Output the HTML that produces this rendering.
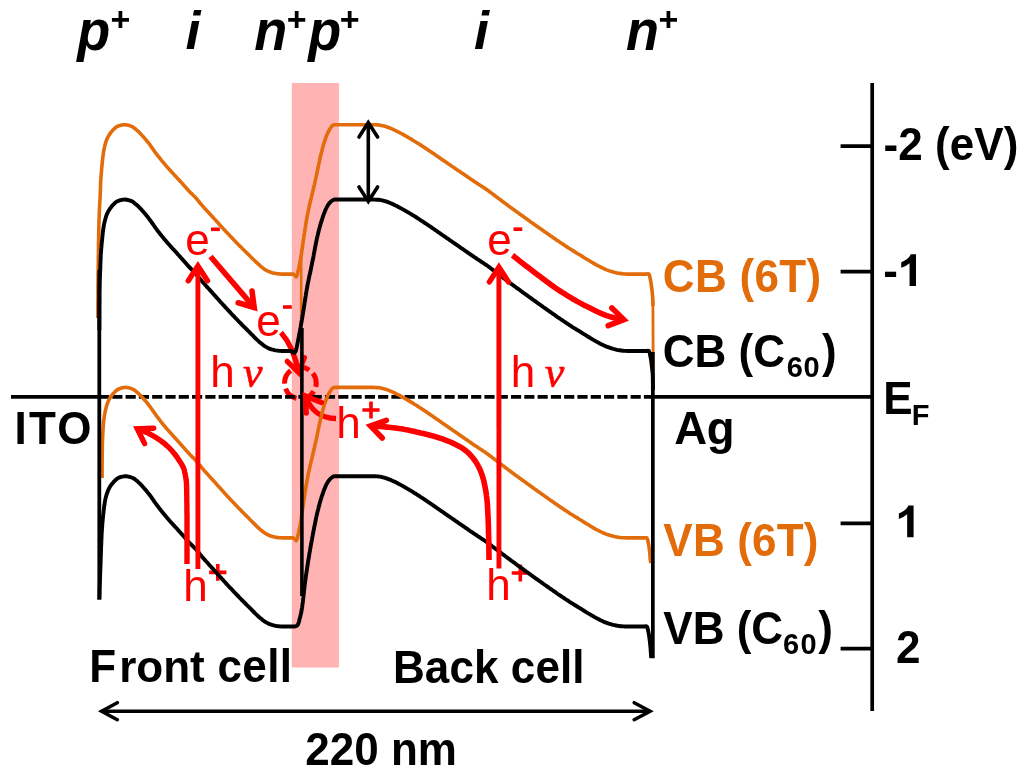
<!DOCTYPE html>
<html><head><meta charset="utf-8"><title>Band diagram</title>
<style>
html,body{margin:0;padding:0;background:#fff;}
body{width:1024px;height:770px;overflow:hidden;font-family:"Liberation Sans",sans-serif;}
svg{display:block;will-change:transform;}
</style></head><body>
<svg width="1024" height="770" viewBox="0 0 1024 770">
<rect x="0" y="0" width="1024" height="770" fill="#fff"/>
<rect x="291.8" y="83" width="47.1" height="584.5" fill="#FFB3B3"/>
<text x="185.2" y="255.4" font-family="&quot;Liberation Sans&quot;, sans-serif" font-size="44" fill="#FF0000" >e</text>
<text x="256.2" y="335.8" font-family="&quot;Liberation Sans&quot;, sans-serif" font-size="44" fill="#FF0000" >e</text>
<text x="487.2" y="255.4" font-family="&quot;Liberation Sans&quot;, sans-serif" font-size="44" fill="#FF0000" >e</text>
<text x="183.3" y="600.8" font-family="&quot;Liberation Sans&quot;, sans-serif" font-size="44" fill="#FF0000" >h</text>
<text x="486.2" y="600.2" font-family="&quot;Liberation Sans&quot;, sans-serif" font-size="44" fill="#FF0000" >h</text>
<text x="336.3" y="438.0" font-family="&quot;Liberation Sans&quot;, sans-serif" font-size="44" fill="#FF0000" >h</text>
<text x="210.2" y="386.6" font-family="&quot;Liberation Sans&quot;, sans-serif" font-size="44" fill="#FF0000" >h</text>
<text x="510.8" y="386.6" font-family="&quot;Liberation Sans&quot;, sans-serif" font-size="44" fill="#FF0000" >h</text>
<text x="243" y="386.6" font-family="&quot;Liberation Serif&quot;, sans-serif" font-size="44" fill="#FF0000" font-style="italic" stroke="#FF0000" stroke-width="0.6">ν</text>
<text x="544.8" y="386.6" font-family="&quot;Liberation Serif&quot;, sans-serif" font-size="44" fill="#FF0000" font-style="italic" stroke="#FF0000" stroke-width="0.6">ν</text>
<rect x="211" y="227.5" width="8.8" height="3.6" fill="#FF0000"/>
<rect x="283" y="305.2" width="8.8" height="3.6" fill="#FF0000"/>
<rect x="513.5" y="227.4" width="8.8" height="3.6" fill="#FF0000"/>
<path d="M209.20000000000002,572.4 H226.4 M217.8,564.0 V580.8" stroke="#FF0000" stroke-width="3.6" fill="none"/>
<path d="M511.69999999999993,573.0 H528.9 M520.3,564.6 V581.4" stroke="#FF0000" stroke-width="3.6" fill="none"/>
<path d="M362.4,410.0 H379.6 M371.0,401.6 V418.4" stroke="#FF0000" stroke-width="3.6" fill="none"/>
<path d="M281,332.5 C288.5,341 295.5,356 298.6,372.7" fill="none" stroke="#FF0000" stroke-width="5.2" stroke-linecap="butt" stroke-linejoin="round"/>
<path d="M304.4,357.6 L298.6,372.7 L287.2,361.3" fill="none" stroke="#FF0000" stroke-width="5.2" stroke-linecap="round" stroke-linejoin="miter" stroke-miterlimit="10"/>
<circle cx="300.4" cy="383" r="15.8" fill="none" stroke="#FF0000" stroke-width="5" stroke-dasharray="15 4.86" stroke-dashoffset="11.03"/>
<path d="M336,418.5 C320,418.5 310,409 305.6,396.0" fill="none" stroke="#FF0000" stroke-width="5.4" stroke-linecap="butt" stroke-linejoin="round"/>
<path d="M11,396.9 H99.2" stroke="#000" stroke-width="3.6" fill="none"/>
<path d="M99.0,396.9 H654" stroke="#000" stroke-width="3.6" stroke-dasharray="10.15 3.14" fill="none"/>
<path d="M651,396.9 H872" stroke="#000" stroke-width="3.6" fill="none"/>
<path d="M97.9,318.0 L97.9,316.5 L97.9,315.0 L97.9,313.5 L97.9,312.0 L97.9,310.5 L97.9,309.0 L97.9,307.5 L97.9,306.0 L97.9,304.5 L97.9,303.0 L97.9,301.5 L98.0,300.0 L98.0,298.5 L98.0,297.0 L98.0,295.5 L98.0,294.0 L98.0,292.5 L98.0,291.0 L98.0,289.5 L98.0,288.0 L98.0,286.5 L98.0,285.0 L98.0,283.5 L98.1,282.0 L98.1,280.5 L98.1,279.0 L98.1,277.5 L98.1,276.0 L98.1,274.5 L98.1,273.0 L98.2,271.5 L98.2,270.0 L98.2,268.5 L98.2,267.0 L98.2,265.5 L98.3,264.0 L98.3,262.5 L98.3,261.0 L98.3,259.5 L98.3,258.0 L98.3,256.5 L98.4,255.0 L98.4,253.5 L98.4,252.0 L98.4,250.5 L98.5,249.0 L98.5,247.5 L98.5,246.0 L98.5,244.5 L98.5,243.0 L98.6,241.5 L98.6,240.0 L98.6,238.5 L98.7,237.0 L98.7,235.5 L98.7,234.0 L98.7,232.5 L98.8,231.0 L98.8,229.5 L98.8,228.0 L98.9,226.5 L98.9,225.0 L99.0,223.5 L99.0,222.0 L99.0,220.5 L99.1,219.0 L99.1,217.5 L99.2,216.0 L99.2,214.5 L99.3,213.0 L99.3,211.5 L99.4,210.0 L99.5,208.5 L99.6,207.0 L99.6,205.5 L99.7,204.0 L99.8,202.5 L99.9,201.0 L100.0,199.5 L100.1,198.0 L100.1,196.5 L100.2,195.0 L100.3,193.5 L100.3,192.0 L100.4,190.5 L100.4,189.0 L100.5,187.5 L100.5,186.0 L100.6,184.5 L100.6,183.0 L100.7,181.5 L100.8,180.0 L100.9,178.6 L101.0,177.1 L101.1,175.6 L101.2,174.1 L101.3,172.6 L101.5,171.1 L101.6,169.6 L101.7,168.1 L101.9,166.6 L102.0,165.1 L102.2,163.6 L102.3,162.1 L102.5,160.6 L102.6,159.1 L102.8,157.6 L103.0,156.1 L103.2,154.6 L103.4,153.2 L103.6,151.7 L103.9,150.2 L104.2,148.7 L104.5,147.3 L104.8,145.8 L105.2,144.3 L105.6,142.9 L106.1,141.4 L106.6,140.0 L107.1,138.7 L107.8,137.3 L108.5,136.0 L109.3,134.7 L110.2,133.4 L111.1,132.2 L112.0,131.1 L113.0,130.0 L114.1,128.9 L115.3,127.8 L116.5,126.9 L117.8,126.2 L119.1,125.7 L120.6,125.3 L122.1,125.0 L123.6,124.7 L125.1,124.7 L126.6,124.9 L128.1,125.2 L129.5,125.6 L130.9,126.1 L132.3,126.7 L133.5,127.5 L134.8,128.4 L135.9,129.4 L137.1,130.4 L138.2,131.3 L139.3,132.4 L140.3,133.5 L141.3,134.6 L142.3,135.7 L143.4,136.8 L144.3,137.9 L145.3,139.1 L146.3,140.2 L147.2,141.4 L148.2,142.6 L149.1,143.7 L150.0,144.9 L150.9,146.2 L151.7,147.4 L152.6,148.6 L153.5,149.8 L154.3,151.1 L155.2,152.3 L156.1,153.5 L157.0,154.7 L157.9,155.9 L158.9,157.0 L159.8,158.2 L160.7,159.4 L161.7,160.6 L162.6,161.7 L163.6,162.9 L164.6,164.0 L165.5,165.2 L166.5,166.3 L167.5,167.4 L168.5,168.5 L169.5,169.6 L170.5,170.8 L171.5,171.9 L172.5,173.0 L173.6,174.1 L174.6,175.2 L175.6,176.3 L176.6,177.4 L177.6,178.5 L178.6,179.6 L179.7,180.7 L180.7,181.8 L181.7,182.9 L182.7,184.0 L183.7,185.2 L184.7,186.3 L185.7,187.4 L186.7,188.5 L187.7,189.6 L188.7,190.7 L189.7,191.8 L190.8,192.9 L191.9,193.9 L192.9,195.0 L194.0,196.0 L195.1,197.1 L196.1,198.2 L197.1,199.3 L198.0,200.5 L199.0,201.6 L199.9,202.8 L200.9,204.0 L201.8,205.1 L202.8,206.2 L203.8,207.4 L204.8,208.5 L205.8,209.6 L206.8,210.7 L207.9,211.8 L208.9,212.9 L209.9,214.0 L210.9,215.1 L211.9,216.2 L212.9,217.3 L213.9,218.4 L214.9,219.5 L216.0,220.6 L217.0,221.8 L218.0,222.9 L219.0,224.0 L220.0,225.1 L221.0,226.2 L222.0,227.3 L223.0,228.4 L224.1,229.5 L225.1,230.6 L226.1,231.7 L227.1,232.8 L228.2,233.9 L229.2,235.0 L230.2,236.1 L231.2,237.2 L232.3,238.2 L233.3,239.3 L234.4,240.4 L235.4,241.5 L236.4,242.6 L237.5,243.6 L238.5,244.7 L239.6,245.8 L240.7,246.8 L241.7,247.9 L242.8,249.0 L243.8,250.0 L244.9,251.1 L246.0,252.1 L247.0,253.2 L248.1,254.2 L249.2,255.3 L250.2,256.3 L251.3,257.4 L252.4,258.5 L253.4,259.5 L254.5,260.6 L255.6,261.7 L256.7,262.7 L257.8,263.7 L258.9,264.7 L260.0,265.7 L261.2,266.6 L262.3,267.6 L263.5,268.5 L264.8,269.4 L266.0,270.1 L267.4,270.8 L268.7,271.4 L270.1,272.0 L271.6,272.5 L273.0,272.9 L274.5,273.2 L275.9,273.5 L277.4,273.8 L278.9,273.9 L280.4,274.0 L281.9,274.1 L283.4,274.1 L285.0,274.1 L286.6,274.1 L288.2,274.1 L289.7,274.1 L291.2,274.1 L292.6,274.1 L293.8,274.3 L294.9,275.7 L295.9,276.9 L296.5,276.5 L297.1,275.3 L297.5,273.6 L297.9,271.7 L298.3,270.1 L298.7,268.6 L299.0,267.1 L299.3,265.7 L299.6,264.2 L299.9,262.7 L300.1,261.2 L300.4,259.8 L300.7,258.3 L300.9,256.8 L301.1,255.3 L301.4,253.8 L301.6,252.4 L301.8,250.9 L302.0,249.4 L302.3,247.9 L302.5,246.4 L302.7,244.9 L302.9,243.5 L303.1,242.0 L303.3,240.5 L303.6,239.0 L303.8,237.5 L304.0,236.0 L304.2,234.5 L304.5,233.1 L304.7,231.6 L304.9,230.1 L305.1,228.6 L305.4,227.1 L305.6,225.6 L305.8,224.2 L306.1,222.7 L306.3,221.2 L306.6,219.7 L306.8,218.3 L307.1,216.8 L307.4,215.3 L307.7,213.8 L308.0,212.4 L308.3,210.9 L308.6,209.4 L308.9,208.0 L309.2,206.5 L309.5,205.0 L309.9,203.6 L310.2,202.1 L310.5,200.6 L310.9,199.2 L311.3,197.7 L311.6,196.3 L312.0,194.8 L312.3,193.4 L312.7,191.9 L313.0,190.4 L313.3,189.0 L313.7,187.5 L314.0,186.1 L314.4,184.6 L314.7,183.1 L315.0,181.7 L315.4,180.2 L315.7,178.7 L316.0,177.3 L316.3,175.8 L316.7,174.3 L317.0,172.9 L317.3,171.4 L317.6,169.9 L317.9,168.5 L318.2,167.0 L318.5,165.5 L318.8,164.1 L319.1,162.6 L319.5,161.1 L319.8,159.7 L320.1,158.2 L320.4,156.7 L320.8,155.3 L321.1,153.8 L321.5,152.4 L321.9,150.9 L322.2,149.5 L322.6,148.0 L323.0,146.5 L323.4,145.1 L323.8,143.7 L324.3,142.2 L324.8,140.8 L325.2,139.4 L325.7,138.0 L326.3,136.5 L326.8,135.1 L327.4,133.7 L328.0,132.4 L328.7,131.0 L329.5,129.8 L330.3,128.4 L331.2,127.0 L332.2,125.8 L333.4,125.0 L334.7,124.8 L336.3,124.7 L337.8,124.7 L339.2,124.7 L340.7,124.7 L342.2,124.7 L343.7,124.7 L345.2,124.7 L346.7,124.7 L348.2,124.7 L349.7,124.7 L351.2,124.7 L352.7,124.7 L354.2,124.7 L355.7,124.7 L357.2,124.7 L358.7,124.7 L360.3,124.7 L361.8,124.7 L363.3,124.7 L364.8,124.7 L366.3,124.7 L367.8,124.7 L369.3,124.7 L370.8,124.7 L372.3,124.7 L373.8,124.8 L375.3,124.8 L376.8,124.9 L378.3,125.0 L379.7,125.1 L381.2,125.4 L382.7,125.7 L384.1,126.1 L385.6,126.5 L387.0,127.0 L388.4,127.5 L389.8,128.0 L391.2,128.6 L392.6,129.2 L393.9,129.8 L395.3,130.5 L396.6,131.1 L398.0,131.8 L399.3,132.5 L400.6,133.2 L402.0,133.9 L403.3,134.6 L404.6,135.4 L405.9,136.1 L407.2,136.8 L408.5,137.6 L409.8,138.3 L411.1,139.1 L412.4,139.9 L413.6,140.7 L414.9,141.5 L416.2,142.3 L417.5,143.0 L418.7,143.8 L420.0,144.6 L421.3,145.5 L422.5,146.3 L423.8,147.1 L425.0,147.9 L426.3,148.7 L427.5,149.6 L428.8,150.4 L430.0,151.2 L431.3,152.1 L432.5,152.9 L433.8,153.8 L435.0,154.6 L436.2,155.5 L437.5,156.3 L438.7,157.2 L439.9,158.0 L441.2,158.9 L442.4,159.7 L443.6,160.6 L444.9,161.4 L446.1,162.3 L447.4,163.1 L448.6,164.0 L449.8,164.8 L451.1,165.6 L452.3,166.5 L453.6,167.3 L454.8,168.2 L456.0,169.0 L457.3,169.9 L458.5,170.7 L459.8,171.6 L461.0,172.4 L462.2,173.2 L463.5,174.1 L464.7,174.9 L466.0,175.8 L467.2,176.6 L468.4,177.5 L469.7,178.3 L470.9,179.2 L472.2,180.0 L473.4,180.8 L474.6,181.7 L475.9,182.5 L477.1,183.3 L478.4,184.2 L479.7,185.0 L480.9,185.8 L482.2,186.6 L483.4,187.4 L484.7,188.2 L485.9,189.1 L487.2,189.9 L488.4,190.8 L489.6,191.7 L490.8,192.6 L492.0,193.5 L493.2,194.4 L494.4,195.3 L495.6,196.2 L496.8,197.1 L498.0,198.0 L499.2,198.9 L500.4,199.8 L501.6,200.7 L502.8,201.6 L504.0,202.5 L505.2,203.4 L506.4,204.3 L507.6,205.2 L508.8,206.1 L510.0,207.0 L511.2,207.8 L512.4,208.7 L513.7,209.6 L514.9,210.5 L516.1,211.4 L517.3,212.3 L518.5,213.1 L519.7,214.0 L520.9,214.9 L522.2,215.8 L523.4,216.6 L524.6,217.5 L525.8,218.4 L527.1,219.2 L528.3,220.1 L529.5,221.0 L530.7,221.9 L531.9,222.7 L533.2,223.6 L534.4,224.5 L535.6,225.3 L536.8,226.2 L538.1,227.1 L539.3,227.9 L540.5,228.8 L541.7,229.6 L543.0,230.5 L544.2,231.4 L545.4,232.2 L546.7,233.1 L547.9,233.9 L549.1,234.8 L550.3,235.7 L551.6,236.5 L552.8,237.4 L554.1,238.2 L555.3,239.1 L556.5,239.9 L557.8,240.8 L559.0,241.6 L560.2,242.4 L561.5,243.3 L562.7,244.1 L564.0,244.9 L565.2,245.8 L566.5,246.6 L567.8,247.4 L569.0,248.2 L570.3,249.0 L571.5,249.8 L572.8,250.6 L574.1,251.4 L575.4,252.2 L576.6,253.0 L577.9,253.8 L579.2,254.5 L580.5,255.3 L581.8,256.1 L583.1,256.9 L584.3,257.7 L585.6,258.5 L586.9,259.3 L588.2,260.0 L589.5,260.8 L590.7,261.6 L592.0,262.3 L593.3,263.1 L594.6,263.9 L595.9,264.6 L597.2,265.3 L598.6,266.0 L599.9,266.7 L601.2,267.4 L602.6,268.0 L604.0,268.7 L605.3,269.3 L606.7,269.9 L608.1,270.4 L609.5,270.9 L611.0,271.3 L612.4,271.8 L613.8,272.2 L615.3,272.6 L616.8,272.9 L618.2,273.2 L619.7,273.4 L621.2,273.6 L622.7,273.8 L624.2,274.0 L625.7,274.0 L627.2,274.1 L628.7,274.1 L630.2,274.1 L631.7,274.1 L633.2,274.1 L634.7,274.1 L636.2,274.1 L637.7,274.1 L639.2,274.1 L640.7,274.1 L642.2,274.1 L643.7,274.1 L645.2,274.1 L646.7,274.1 L648.2,273.8 L649.0,274.3 L649.6,275.7 L650.0,277.6 L650.3,279.2 L650.6,280.7 L650.9,282.2 L651.1,283.6 L651.3,285.1 L651.5,286.6 L651.7,288.1 L651.9,289.6 L652.1,291.1 L652.2,292.6 L652.4,294.1 L652.5,295.6 L652.7,297.1 L652.7,298.6 L652.8,300.1 L652.9,301.6 L652.9,303.1 L652.9,304.6 L652.9,306.0" fill="none" stroke="#E36C0A" stroke-width="3.6" stroke-linejoin="round"/>
<path d="M102.1,478.0 L102.1,476.5 L102.1,475.0 L102.1,473.5 L102.1,472.0 L102.1,470.5 L102.1,469.0 L102.1,467.5 L102.1,466.0 L102.1,464.5 L102.1,463.0 L102.2,461.5 L102.2,460.0 L102.2,458.5 L102.2,457.0 L102.2,455.5 L102.2,454.0 L102.2,452.5 L102.3,451.0 L102.3,449.5 L102.3,448.0 L102.3,446.5 L102.4,445.0 L102.4,443.5 L102.4,442.0 L102.5,440.5 L102.6,439.0 L102.6,437.5 L102.7,436.0 L102.8,434.5 L102.8,433.0 L102.9,431.5 L103.0,430.0 L103.1,428.5 L103.2,427.0 L103.3,425.5 L103.4,424.0 L103.5,422.5 L103.7,421.0 L103.9,419.5 L104.1,418.1 L104.3,416.6 L104.5,415.1 L104.8,413.6 L105.1,412.1 L105.4,410.7 L105.7,409.2 L106.1,407.7 L106.5,406.2 L106.9,404.8 L107.4,403.4 L107.9,402.0 L108.5,400.7 L109.2,399.3 L109.9,398.0 L110.8,396.7 L111.7,395.5 L112.6,394.3 L113.6,393.2 L114.6,392.1 L115.8,391.0 L117.0,390.0 L118.2,389.2 L119.5,388.7 L120.9,388.2 L122.4,387.8 L123.9,387.5 L125.4,387.4 L126.9,387.5 L128.4,387.7 L129.9,388.1 L131.3,388.6 L132.7,389.1 L133.9,389.8 L135.2,390.7 L136.4,391.7 L137.5,392.7 L138.7,393.7 L139.7,394.7 L140.8,395.8 L141.8,396.9 L142.8,398.0 L143.8,399.1 L144.8,400.3 L145.8,401.4 L146.8,402.5 L147.7,403.7 L148.6,404.9 L149.6,406.1 L150.5,407.3 L151.3,408.5 L152.2,409.7 L153.0,410.9 L153.9,412.2 L154.8,413.4 L155.6,414.6 L156.5,415.8 L157.4,417.0 L158.3,418.2 L159.2,419.4 L160.1,420.6 L161.1,421.8 L162.0,423.0 L162.9,424.1 L163.9,425.3 L164.9,426.5 L165.8,427.6 L166.8,428.7 L167.8,429.9 L168.8,431.0 L169.8,432.1 L170.8,433.2 L171.8,434.4 L172.8,435.5 L173.8,436.6 L174.8,437.7 L175.8,438.8 L176.8,439.9 L177.8,441.0 L178.8,442.1 L179.8,443.2 L180.8,444.4 L181.8,445.5 L182.8,446.6 L183.8,447.7 L184.8,448.9 L185.8,450.0 L186.8,451.1 L187.8,452.2 L188.8,453.3 L189.8,454.4 L190.9,455.5 L191.9,456.6 L193.0,457.6 L194.1,458.7 L195.1,459.8 L196.1,460.8 L197.1,462.0 L198.1,463.1 L199.0,464.3 L200.0,465.5 L200.9,466.6 L201.9,467.8 L202.8,468.9 L203.8,470.1 L204.8,471.2 L205.8,472.3 L206.8,473.4 L207.8,474.5 L208.8,475.6 L209.8,476.8 L210.8,477.9 L211.8,479.0 L212.9,480.1 L213.9,481.2 L214.9,482.3 L215.9,483.4 L216.9,484.6 L217.9,485.7 L218.9,486.8 L219.9,487.9 L220.9,489.0 L221.9,490.1 L222.9,491.2 L223.9,492.4 L224.9,493.5 L225.9,494.6 L226.9,495.7 L228.0,496.8 L229.0,497.9 L230.0,499.0 L231.0,500.1 L232.1,501.2 L233.1,502.2 L234.1,503.3 L235.2,504.4 L236.2,505.5 L237.2,506.6 L238.3,507.7 L239.3,508.7 L240.4,509.8 L241.4,510.9 L242.5,512.0 L243.5,513.0 L244.6,514.1 L245.6,515.2 L246.7,516.2 L247.8,517.3 L248.8,518.3 L249.9,519.4 L250.9,520.5 L252.0,521.5 L253.0,522.6 L254.1,523.7 L255.2,524.7 L256.2,525.8 L257.3,526.8 L258.4,527.8 L259.5,528.8 L260.7,529.8 L261.8,530.8 L263.0,531.7 L264.2,532.6 L265.5,533.5 L266.8,534.2 L268.1,534.9 L269.5,535.5 L270.9,536.0 L272.3,536.4 L273.8,536.8 L275.2,537.2 L276.7,537.4 L278.2,537.6 L279.7,537.7 L281.2,537.8 L282.7,537.9 L284.2,537.9 L285.8,537.9 L287.4,537.9 L289.0,537.9 L290.5,537.9 L291.9,537.9 L293.2,537.9 L294.4,538.7 L295.5,540.3 L296.2,540.7 L296.8,539.8 L297.3,538.3 L297.7,536.5 L298.1,534.6 L298.5,533.1 L298.8,531.7 L299.1,530.2 L299.4,528.7 L299.7,527.3 L300.0,525.8 L300.3,524.3 L300.5,522.8 L300.8,521.3 L301.0,519.9 L301.2,518.4 L301.5,516.9 L301.7,515.4 L301.9,513.9 L302.1,512.5 L302.3,511.0 L302.6,509.5 L302.8,508.0 L303.0,506.5 L303.2,505.0 L303.4,503.5 L303.6,502.1 L303.9,500.6 L304.1,499.1 L304.3,497.6 L304.5,496.1 L304.7,494.6 L305.0,493.2 L305.2,491.7 L305.4,490.2 L305.6,488.7 L305.9,487.2 L306.1,485.7 L306.4,484.3 L306.6,482.8 L306.9,481.3 L307.2,479.8 L307.5,478.4 L307.7,476.9 L308.0,475.4 L308.3,474.0 L308.6,472.5 L308.9,471.0 L309.3,469.5 L309.6,468.1 L309.9,466.6 L310.2,465.2 L310.6,463.7 L310.9,462.2 L311.3,460.8 L311.7,459.3 L312.0,457.9 L312.4,456.4 L312.7,454.9 L313.0,453.5 L313.4,452.0 L313.7,450.6 L314.0,449.1 L314.4,447.6 L314.7,446.2 L315.0,444.7 L315.4,443.2 L315.7,441.8 L316.0,440.3 L316.4,438.9 L316.7,437.4 L317.0,435.9 L317.3,434.5 L317.6,433.0 L317.9,431.5 L318.2,430.0 L318.5,428.6 L318.8,427.1 L319.1,425.6 L319.4,424.2 L319.8,422.7 L320.1,421.2 L320.4,419.8 L320.8,418.3 L321.1,416.9 L321.5,415.4 L321.8,413.9 L322.2,412.5 L322.6,411.0 L323.0,409.6 L323.4,408.1 L323.8,406.7 L324.2,405.3 L324.7,403.8 L325.2,402.4 L325.7,401.0 L326.2,399.6 L326.7,398.1 L327.3,396.7 L327.9,395.4 L328.6,394.0 L329.3,392.8 L330.1,391.5 L331.0,390.0 L332.0,388.7 L333.1,387.8 L334.4,387.5 L335.9,387.4 L337.4,387.4 L338.9,387.4 L340.4,387.4 L341.9,387.4 L343.4,387.4 L344.9,387.4 L346.4,387.4 L347.9,387.4 L349.4,387.4 L350.9,387.4 L352.4,387.4 L353.9,387.4 L355.4,387.4 L356.9,387.4 L358.4,387.4 L359.9,387.4 L361.4,387.4 L362.9,387.4 L364.4,387.4 L365.9,387.4 L367.4,387.4 L368.9,387.4 L370.4,387.4 L371.9,387.4 L373.4,387.4 L374.9,387.5 L376.4,387.6 L377.9,387.6 L379.4,387.8 L380.9,388.0 L382.4,388.4 L383.8,388.8 L385.3,389.2 L386.7,389.6 L388.1,390.1 L389.5,390.7 L390.9,391.3 L392.3,391.9 L393.6,392.5 L395.0,393.1 L396.3,393.8 L397.6,394.5 L399.0,395.2 L400.3,395.9 L401.6,396.6 L402.9,397.3 L404.2,398.1 L405.6,398.8 L406.8,399.6 L408.1,400.3 L409.4,401.1 L410.7,401.9 L412.0,402.7 L413.3,403.4 L414.5,404.2 L415.8,405.0 L417.1,405.8 L418.3,406.7 L419.6,407.5 L420.9,408.3 L422.1,409.1 L423.4,409.9 L424.6,410.8 L425.9,411.6 L427.1,412.4 L428.3,413.3 L429.6,414.1 L430.8,415.0 L432.1,415.8 L433.3,416.7 L434.5,417.5 L435.7,418.4 L437.0,419.3 L438.2,420.1 L439.4,421.0 L440.7,421.8 L441.9,422.7 L443.1,423.5 L444.4,424.4 L445.6,425.3 L446.8,426.1 L448.1,427.0 L449.3,427.8 L450.5,428.7 L451.8,429.5 L453.0,430.4 L454.2,431.2 L455.5,432.1 L456.7,432.9 L457.9,433.8 L459.2,434.6 L460.4,435.5 L461.6,436.3 L462.9,437.2 L464.1,438.0 L465.3,438.9 L466.6,439.8 L467.8,440.6 L469.0,441.5 L470.3,442.3 L471.5,443.2 L472.7,444.0 L474.0,444.9 L475.2,445.7 L476.5,446.5 L477.7,447.4 L479.0,448.2 L480.2,449.0 L481.5,449.8 L482.7,450.7 L484.0,451.5 L485.2,452.3 L486.4,453.2 L487.7,454.1 L488.9,455.0 L490.1,455.9 L491.3,456.8 L492.5,457.7 L493.7,458.6 L494.8,459.5 L496.0,460.4 L497.2,461.3 L498.4,462.3 L499.6,463.2 L500.8,464.1 L502.0,465.0 L503.2,465.9 L504.4,466.8 L505.6,467.7 L506.8,468.6 L508.0,469.5 L509.2,470.4 L510.4,471.3 L511.6,472.2 L512.8,473.1 L514.0,474.0 L515.2,474.9 L516.4,475.7 L517.6,476.6 L518.8,477.5 L520.1,478.4 L521.3,479.3 L522.5,480.2 L523.7,481.0 L524.9,481.9 L526.1,482.8 L527.3,483.7 L528.6,484.6 L529.8,485.4 L531.0,486.3 L532.2,487.2 L533.4,488.1 L534.6,488.9 L535.9,489.8 L537.1,490.7 L538.3,491.6 L539.5,492.4 L540.7,493.3 L542.0,494.2 L543.2,495.0 L544.4,495.9 L545.6,496.8 L546.9,497.6 L548.1,498.5 L549.3,499.4 L550.5,500.2 L551.8,501.1 L553.0,502.0 L554.2,502.8 L555.5,503.7 L556.7,504.5 L557.9,505.4 L559.2,506.2 L560.4,507.1 L561.7,507.9 L562.9,508.7 L564.1,509.6 L565.4,510.4 L566.7,511.2 L567.9,512.0 L569.2,512.9 L570.4,513.7 L571.7,514.5 L573.0,515.3 L574.2,516.1 L575.5,516.9 L576.8,517.6 L578.1,518.4 L579.3,519.2 L580.6,520.0 L581.9,520.8 L583.2,521.6 L584.4,522.4 L585.7,523.2 L587.0,524.0 L588.3,524.7 L589.6,525.5 L590.8,526.3 L592.1,527.1 L593.4,527.8 L594.7,528.6 L596.0,529.3 L597.4,530.0 L598.7,530.7 L600.0,531.3 L601.4,532.0 L602.8,532.7 L604.1,533.3 L605.5,533.8 L606.9,534.4 L608.3,534.8 L609.8,535.3 L611.2,535.7 L612.7,536.1 L614.1,536.5 L615.6,536.8 L617.1,537.1 L618.5,537.3 L620.0,537.5 L621.5,537.7 L623.0,537.8 L624.5,537.8 L626.0,537.9 L627.5,537.9 L629.0,537.9 L630.5,537.9 L632.0,537.9 L633.5,537.9 L635.0,537.9 L636.5,537.9 L638.0,537.9 L639.5,537.9 L641.0,537.9 L642.5,537.9 L644.0,537.9 L645.6,537.8 L646.7,537.7 L647.3,538.8 L647.8,540.5 L648.2,542.3 L648.5,543.8 L648.8,545.3 L649.0,546.8 L649.2,548.3 L649.4,549.8 L649.6,551.2 L649.8,552.7 L649.9,554.3 L650.0,555.8 L650.1,557.4 L650.2,558.9 L650.4,560.4 L650.6,561.8 L651.0,563.0" fill="none" stroke="#E36C0A" stroke-width="3.6" stroke-linejoin="round"/>
<path d="M301.2,254 V330" fill="none" stroke="#E36C0A" stroke-width="2.6"/>
<path d="M652.9,300 L653.2,371" fill="none" stroke="#E36C0A" stroke-width="2.8"/>
<path d="M99.4,330.0 L99.4,328.5 L99.4,327.0 L99.4,325.5 L99.4,324.0 L99.4,322.5 L99.4,321.0 L99.4,319.5 L99.4,318.0 L99.4,316.5 L99.4,315.0 L99.4,313.5 L99.4,312.0 L99.4,310.5 L99.4,309.0 L99.4,307.5 L99.4,306.0 L99.5,304.5 L99.5,303.0 L99.5,301.5 L99.5,300.0 L99.5,298.5 L99.5,297.0 L99.5,295.5 L99.5,294.0 L99.5,292.5 L99.5,291.0 L99.6,289.5 L99.6,288.0 L99.6,286.5 L99.7,285.0 L99.7,283.5 L99.7,282.0 L99.8,280.5 L99.8,279.0 L99.9,277.5 L100.0,276.0 L100.0,274.5 L100.1,273.0 L100.2,271.5 L100.2,270.0 L100.3,268.5 L100.3,267.0 L100.4,265.5 L100.4,264.0 L100.5,262.5 L100.5,261.0 L100.6,259.5 L100.7,258.0 L100.7,256.5 L100.8,255.0 L100.9,253.5 L101.0,252.0 L101.1,250.5 L101.2,249.0 L101.4,247.5 L101.5,246.0 L101.6,244.6 L101.8,243.1 L101.9,241.6 L102.1,240.1 L102.2,238.6 L102.4,237.1 L102.5,235.6 L102.7,234.1 L102.8,232.6 L103.0,231.1 L103.2,229.6 L103.4,228.1 L103.7,226.7 L103.9,225.2 L104.2,223.7 L104.5,222.2 L104.9,220.8 L105.3,219.3 L105.7,217.8 L106.1,216.4 L106.6,215.0 L107.1,213.6 L107.8,212.3 L108.5,211.0 L109.3,209.7 L110.1,208.4 L111.1,207.2 L112.0,206.0 L113.0,204.9 L114.1,203.8 L115.2,202.7 L116.4,201.8 L117.7,201.1 L119.0,200.6 L120.5,200.2 L122.0,199.8 L123.5,199.6 L125.0,199.5 L126.5,199.7 L128.0,200.0 L129.4,200.4 L130.8,200.9 L132.2,201.4 L133.4,202.2 L134.6,203.2 L135.8,204.2 L137.0,205.1 L138.1,206.1 L139.1,207.2 L140.2,208.3 L141.2,209.4 L142.2,210.5 L143.2,211.6 L144.2,212.8 L145.2,213.9 L146.1,215.0 L147.1,216.2 L148.0,217.4 L148.9,218.6 L149.8,219.8 L150.7,221.0 L151.5,222.2 L152.4,223.5 L153.3,224.7 L154.1,225.9 L155.0,227.1 L155.9,228.4 L156.8,229.6 L157.7,230.8 L158.6,232.0 L159.5,233.1 L160.4,234.3 L161.4,235.5 L162.3,236.7 L163.3,237.8 L164.2,239.0 L165.2,240.1 L166.2,241.3 L167.1,242.4 L168.1,243.5 L169.1,244.6 L170.1,245.8 L171.1,246.9 L172.1,248.0 L173.1,249.1 L174.2,250.2 L175.2,251.3 L176.2,252.4 L177.2,253.5 L178.2,254.7 L179.2,255.8 L180.2,256.9 L181.2,258.0 L182.2,259.1 L183.2,260.3 L184.2,261.4 L185.2,262.5 L186.2,263.6 L187.2,264.7 L188.2,265.9 L189.2,267.0 L190.2,268.0 L191.3,269.1 L192.3,270.2 L193.4,271.2 L194.5,272.3 L195.5,273.4 L196.5,274.5 L197.4,275.6 L198.4,276.8 L199.3,278.0 L200.3,279.2 L201.2,280.3 L202.2,281.5 L203.2,282.6 L204.2,283.7 L205.2,284.8 L206.2,286.0 L207.2,287.1 L208.2,288.2 L209.2,289.3 L210.2,290.4 L211.2,291.5 L212.2,292.6 L213.2,293.7 L214.2,294.9 L215.2,296.0 L216.2,297.1 L217.2,298.2 L218.2,299.3 L219.2,300.4 L220.2,301.6 L221.2,302.7 L222.2,303.8 L223.2,304.9 L224.3,306.0 L225.3,307.1 L226.3,308.2 L227.3,309.3 L228.3,310.4 L229.4,311.5 L230.4,312.6 L231.4,313.7 L232.4,314.8 L233.5,315.9 L234.5,317.0 L235.5,318.1 L236.6,319.1 L237.6,320.2 L238.6,321.3 L239.7,322.4 L240.7,323.4 L241.8,324.5 L242.8,325.6 L243.9,326.6 L245.0,327.7 L246.0,328.8 L247.1,329.8 L248.1,330.9 L249.2,331.9 L250.3,333.0 L251.3,334.1 L252.4,335.2 L253.4,336.2 L254.5,337.3 L255.6,338.4 L256.6,339.4 L257.7,340.4 L258.8,341.4 L260.0,342.4 L261.1,343.4 L262.3,344.3 L263.5,345.3 L264.7,346.1 L266.0,346.9 L267.3,347.6 L268.6,348.3 L270.0,348.8 L271.5,349.3 L272.9,349.7 L274.4,350.1 L275.8,350.4 L277.3,350.6 L278.8,350.8 L280.3,350.9 L281.8,351.0 L283.3,351.0 L284.8,351.0 L286.3,351.0 L287.8,351.0 L289.3,351.0 L290.8,351.0 L292.2,351.6 L293.4,352.7 L294.4,352.9 L295.5,351.6 L296.0,350.3 L296.4,348.8 L296.7,347.3 L297.0,345.8 L297.3,344.3 L297.6,342.9 L297.9,341.4 L298.2,339.9 L298.5,338.4 L298.8,337.0 L299.0,335.5 L299.3,334.0 L299.6,332.5 L299.9,331.1 L300.1,329.6 L300.4,328.1 L300.7,326.6 L300.9,325.2 L301.2,323.7 L301.5,322.2 L301.7,320.7 L302.0,319.3 L302.2,317.8 L302.5,316.3 L302.7,314.8 L303.0,313.3 L303.2,311.9 L303.5,310.4 L303.7,308.9 L303.9,307.4 L304.2,305.9 L304.4,304.4 L304.6,303.0 L304.8,301.5 L305.1,300.0 L305.3,298.5 L305.5,297.0 L305.8,295.6 L306.0,294.1 L306.2,292.6 L306.5,291.1 L306.7,289.6 L307.0,288.2 L307.3,286.7 L307.5,285.2 L307.8,283.7 L308.1,282.3 L308.4,280.8 L308.7,279.3 L309.0,277.9 L309.3,276.4 L309.6,274.9 L310.0,273.5 L310.3,272.0 L310.6,270.5 L310.9,269.1 L311.2,267.6 L311.5,266.1 L311.8,264.6 L312.1,263.2 L312.4,261.7 L312.7,260.2 L313.0,258.8 L313.3,257.3 L313.6,255.8 L313.8,254.3 L314.1,252.9 L314.4,251.4 L314.7,249.9 L314.9,248.4 L315.2,247.0 L315.5,245.5 L315.8,244.0 L316.1,242.5 L316.4,241.1 L316.7,239.6 L317.0,238.1 L317.3,236.7 L317.7,235.2 L318.0,233.8 L318.4,232.3 L318.7,230.9 L319.1,229.4 L319.5,227.9 L319.9,226.5 L320.3,225.0 L320.7,223.6 L321.2,222.2 L321.6,220.7 L322.1,219.3 L322.5,217.9 L323.0,216.5 L323.5,215.0 L324.0,213.6 L324.6,212.2 L325.1,210.8 L325.7,209.4 L326.4,208.0 L327.0,206.7 L327.8,205.4 L328.6,204.2 L329.5,203.0 L330.6,201.9 L331.7,200.9 L333.0,200.1 L334.4,199.5 L335.9,199.5 L337.4,199.5 L338.9,199.5 L340.4,199.5 L341.9,199.5 L343.4,199.5 L344.9,199.5 L346.4,199.5 L347.9,199.5 L349.4,199.5 L350.9,199.5 L352.4,199.5 L353.9,199.5 L355.4,199.5 L356.9,199.5 L358.4,199.5 L359.9,199.5 L361.4,199.5 L362.9,199.5 L364.4,199.5 L365.9,199.5 L367.4,199.5 L368.9,199.5 L370.4,199.5 L371.9,199.5 L373.4,199.5 L374.9,199.6 L376.4,199.7 L377.9,199.7 L379.4,199.8 L380.8,200.1 L382.3,200.4 L383.8,200.8 L385.2,201.2 L386.6,201.7 L388.0,202.2 L389.4,202.7 L390.8,203.3 L392.2,203.9 L393.6,204.5 L394.9,205.2 L396.3,205.8 L397.6,206.5 L398.9,207.2 L400.3,207.9 L401.6,208.6 L402.9,209.4 L404.2,210.1 L405.5,210.8 L406.8,211.6 L408.1,212.3 L409.4,213.1 L410.7,213.9 L412.0,214.7 L413.2,215.4 L414.5,216.2 L415.8,217.0 L417.1,217.8 L418.3,218.6 L419.6,219.5 L420.8,220.3 L422.1,221.1 L423.3,221.9 L424.6,222.8 L425.8,223.6 L427.1,224.4 L428.3,225.3 L429.6,226.1 L430.8,226.9 L432.0,227.8 L433.3,228.7 L434.5,229.5 L435.7,230.4 L437.0,231.2 L438.2,232.1 L439.4,232.9 L440.7,233.8 L441.9,234.7 L443.1,235.5 L444.4,236.4 L445.6,237.2 L446.8,238.1 L448.1,238.9 L449.3,239.8 L450.5,240.6 L451.8,241.5 L453.0,242.3 L454.2,243.2 L455.5,244.0 L456.7,244.9 L457.9,245.7 L459.2,246.6 L460.4,247.5 L461.6,248.3 L462.9,249.2 L464.1,250.0 L465.3,250.9 L466.6,251.7 L467.8,252.6 L469.0,253.4 L470.3,254.3 L471.5,255.1 L472.7,256.0 L474.0,256.8 L475.2,257.7 L476.5,258.5 L477.7,259.3 L479.0,260.2 L480.2,261.0 L481.5,261.8 L482.7,262.6 L484.0,263.5 L485.2,264.3 L486.5,265.2 L487.7,266.0 L488.9,266.9 L490.1,267.8 L491.3,268.7 L492.5,269.6 L493.7,270.5 L494.9,271.4 L496.1,272.3 L497.3,273.2 L498.4,274.2 L499.6,275.1 L500.8,276.0 L502.0,276.9 L503.2,277.8 L504.4,278.7 L505.6,279.6 L506.8,280.5 L508.0,281.4 L509.2,282.3 L510.4,283.2 L511.6,284.1 L512.8,285.0 L514.0,285.9 L515.2,286.8 L516.4,287.7 L517.7,288.6 L518.9,289.4 L520.1,290.3 L521.3,291.2 L522.5,292.1 L523.7,293.0 L524.9,293.8 L526.1,294.7 L527.4,295.6 L528.6,296.5 L529.8,297.4 L531.0,298.2 L532.2,299.1 L533.4,300.0 L534.7,300.9 L535.9,301.7 L537.1,302.6 L538.3,303.5 L539.5,304.4 L540.8,305.2 L542.0,306.1 L543.2,307.0 L544.4,307.8 L545.7,308.7 L546.9,309.6 L548.1,310.4 L549.3,311.3 L550.6,312.2 L551.8,313.0 L553.0,313.9 L554.2,314.7 L555.5,315.6 L556.7,316.5 L557.9,317.3 L559.2,318.2 L560.4,319.0 L561.7,319.9 L562.9,320.7 L564.1,321.5 L565.4,322.4 L566.6,323.2 L567.9,324.0 L569.1,324.8 L570.4,325.7 L571.7,326.5 L572.9,327.3 L574.2,328.1 L575.5,328.9 L576.7,329.7 L578.0,330.4 L579.3,331.2 L580.6,332.0 L581.9,332.8 L583.1,333.6 L584.4,334.4 L585.7,335.2 L586.9,336.0 L588.2,336.8 L589.5,337.5 L590.8,338.3 L592.1,339.1 L593.4,339.9 L594.7,340.6 L596.0,341.4 L597.3,342.1 L598.6,342.8 L599.9,343.5 L601.3,344.2 L602.6,344.8 L604.0,345.5 L605.3,346.1 L606.7,346.7 L608.1,347.2 L609.5,347.7 L611.0,348.2 L612.4,348.6 L613.8,349.0 L615.3,349.4 L616.8,349.8 L618.2,350.1 L619.7,350.3 L621.2,350.5 L622.7,350.7 L624.2,350.9 L625.7,350.9 L627.2,351.0 L628.7,351.0 L630.2,351.0 L631.7,351.0 L633.2,351.0 L634.7,351.0 L636.2,351.0 L637.7,351.0 L639.2,351.0 L640.7,351.0 L642.2,351.0 L643.7,351.0 L645.2,351.0 L646.7,351.0 L648.2,350.7 L649.0,351.1 L649.6,352.6 L650.0,354.4 L650.3,356.1 L650.6,357.6 L650.9,359.0 L651.1,360.5 L651.3,362.0 L651.5,363.5 L651.7,365.0 L651.9,366.5 L652.0,368.0 L652.2,369.5 L652.4,371.0 L652.5,372.5 L652.7,374.0 L652.7,375.5 L652.8,377.0 L652.8,378.5 L652.8,379.9 L652.8,381.4 L652.9,382.9 L652.9,384.4 L652.9,385.9 L652.9,387.4 L652.9,389.0 L652.9,390.0" fill="none" stroke="#000" stroke-width="3.9" stroke-linejoin="round"/>
<path d="M99.4,599.5 L99.4,598.0 L99.5,596.5 L99.5,595.0 L99.6,593.5 L99.6,592.0 L99.6,590.5 L99.7,589.0 L99.7,587.5 L99.8,586.0 L99.8,584.5 L99.9,583.0 L99.9,581.5 L100.0,580.0 L100.0,578.5 L100.1,577.0 L100.1,575.5 L100.2,574.0 L100.2,572.5 L100.3,571.0 L100.3,569.5 L100.4,568.0 L100.5,566.5 L100.5,565.0 L100.6,563.5 L100.6,562.0 L100.7,560.5 L100.7,559.0 L100.8,557.5 L100.8,556.0 L100.9,554.5 L100.9,553.0 L101.0,551.5 L101.0,550.0 L101.1,548.5 L101.1,547.0 L101.2,545.5 L101.3,544.0 L101.3,542.5 L101.4,541.0 L101.4,539.5 L101.5,538.0 L101.6,536.5 L101.6,535.0 L101.7,533.5 L101.8,532.0 L101.9,530.5 L102.0,529.0 L102.1,527.6 L102.2,526.1 L102.3,524.6 L102.4,523.1 L102.6,521.6 L102.7,520.1 L102.8,518.6 L103.0,517.1 L103.1,515.6 L103.3,514.1 L103.5,512.6 L103.6,511.1 L103.8,509.6 L104.0,508.1 L104.1,506.6 L104.4,505.2 L104.6,503.7 L104.8,502.2 L105.1,500.7 L105.4,499.2 L105.7,497.8 L106.1,496.3 L106.5,494.8 L107.0,493.4 L107.5,492.0 L108.0,490.6 L108.6,489.3 L109.3,487.9 L110.1,486.6 L110.9,485.3 L111.8,484.1 L112.8,483.0 L113.7,481.9 L114.8,480.7 L115.9,479.7 L117.1,478.7 L118.4,477.9 L119.7,477.4 L121.1,476.9 L122.6,476.6 L124.1,476.3 L125.6,476.2 L127.1,476.3 L128.6,476.6 L130.1,477.0 L131.5,477.5 L132.8,478.0 L134.1,478.7 L135.4,479.6 L136.5,480.6 L137.7,481.6 L138.8,482.6 L139.9,483.6 L140.9,484.7 L142.0,485.8 L143.0,487.0 L144.0,488.1 L145.0,489.2 L145.9,490.3 L146.9,491.5 L147.8,492.7 L148.8,493.8 L149.7,495.0 L150.6,496.2 L151.5,497.4 L152.3,498.7 L153.2,499.9 L154.0,501.1 L154.9,502.4 L155.8,503.6 L156.7,504.8 L157.6,506.0 L158.5,507.2 L159.4,508.4 L160.3,509.6 L161.2,510.7 L162.2,511.9 L163.1,513.1 L164.1,514.2 L165.0,515.4 L166.0,516.5 L167.0,517.7 L167.9,518.8 L168.9,519.9 L169.9,521.1 L170.9,522.2 L171.9,523.3 L172.9,524.4 L173.9,525.5 L175.0,526.6 L176.0,527.7 L177.0,528.8 L178.0,529.9 L179.0,531.1 L180.0,532.2 L181.0,533.3 L182.0,534.4 L183.0,535.5 L184.0,536.7 L185.0,537.8 L186.0,538.9 L187.0,540.0 L188.0,541.1 L189.0,542.2 L190.0,543.3 L191.1,544.4 L192.1,545.5 L193.2,546.5 L194.3,547.6 L195.3,548.7 L196.3,549.8 L197.3,550.9 L198.3,552.0 L199.2,553.2 L200.1,554.4 L201.1,555.6 L202.0,556.7 L203.0,557.8 L204.0,559.0 L205.0,560.1 L206.0,561.2 L207.0,562.3 L208.0,563.4 L209.0,564.6 L210.0,565.7 L211.0,566.8 L212.0,567.9 L213.1,569.0 L214.1,570.1 L215.1,571.2 L216.1,572.3 L217.1,573.5 L218.1,574.6 L219.1,575.7 L220.1,576.8 L221.1,577.9 L222.1,579.0 L223.1,580.1 L224.1,581.2 L225.1,582.3 L226.1,583.5 L227.2,584.6 L228.2,585.7 L229.2,586.8 L230.2,587.8 L231.3,588.9 L232.3,590.0 L233.3,591.1 L234.3,592.2 L235.4,593.3 L236.4,594.4 L237.5,595.5 L238.5,596.5 L239.5,597.6 L240.6,598.7 L241.6,599.8 L242.7,600.8 L243.8,601.9 L244.8,603.0 L245.9,604.0 L246.9,605.1 L248.0,606.1 L249.1,607.2 L250.1,608.3 L251.2,609.3 L252.2,610.4 L253.3,611.5 L254.3,612.5 L255.4,613.6 L256.5,614.6 L257.6,615.7 L258.7,616.7 L259.8,617.7 L260.9,618.6 L262.1,619.6 L263.3,620.5 L264.5,621.4 L265.8,622.2 L267.1,622.9 L268.4,623.6 L269.8,624.2 L271.2,624.7 L272.7,625.1 L274.1,625.5 L275.6,625.8 L277.1,626.1 L278.6,626.2 L280.0,626.4 L281.5,626.5 L283.0,626.5 L284.5,626.5 L286.1,626.5 L287.6,626.5 L289.1,626.5 L290.6,626.5 L292.1,626.5 L293.6,626.5 L295.0,626.5 L296.5,626.0 L297.6,625.0 L298.3,623.7 L298.8,622.3 L299.2,620.9 L299.5,619.3 L299.9,617.9 L300.3,616.4 L300.6,614.9 L301.0,613.5 L301.3,612.0 L301.6,610.5 L301.8,609.1 L302.1,607.6 L302.3,606.1 L302.5,604.6 L302.7,603.1 L302.9,601.7 L303.0,600.2 L303.2,598.7 L303.4,597.2 L303.5,595.7 L303.7,594.2 L303.9,592.7 L304.0,591.2 L304.2,589.7 L304.4,588.2 L304.5,586.7 L304.7,585.2 L304.9,583.7 L305.1,582.3 L305.3,580.8 L305.5,579.3 L305.7,577.8 L305.9,576.3 L306.1,574.8 L306.3,573.3 L306.6,571.9 L306.8,570.4 L307.0,568.9 L307.2,567.4 L307.5,565.9 L307.7,564.4 L307.9,563.0 L308.1,561.5 L308.4,560.0 L308.6,558.5 L308.9,557.0 L309.1,555.6 L309.3,554.1 L309.6,552.6 L309.9,551.1 L310.1,549.6 L310.4,548.2 L310.6,546.7 L310.9,545.2 L311.2,543.7 L311.4,542.3 L311.7,540.8 L312.0,539.3 L312.2,537.8 L312.5,536.4 L312.8,534.9 L313.1,533.4 L313.3,531.9 L313.6,530.5 L313.9,529.0 L314.2,527.5 L314.5,526.0 L314.8,524.6 L315.1,523.1 L315.4,521.6 L315.7,520.2 L316.0,518.7 L316.3,517.2 L316.6,515.8 L317.0,514.3 L317.3,512.8 L317.6,511.4 L318.0,509.9 L318.4,508.5 L318.7,507.0 L319.1,505.6 L319.5,504.1 L319.9,502.7 L320.3,501.2 L320.7,499.8 L321.2,498.3 L321.6,496.9 L322.1,495.5 L322.6,494.1 L323.1,492.7 L323.6,491.2 L324.1,489.8 L324.7,488.4 L325.3,487.0 L325.9,485.6 L326.5,484.2 L327.3,483.0 L328.0,481.7 L328.9,480.5 L329.9,479.3 L330.9,478.2 L332.1,477.3 L333.4,476.5 L334.8,476.2 L336.3,476.2 L337.9,476.2 L339.4,476.2 L340.9,476.2 L342.4,476.2 L343.9,476.2 L345.4,476.2 L346.9,476.2 L348.4,476.2 L349.9,476.2 L351.4,476.2 L352.9,476.2 L354.4,476.2 L355.9,476.2 L357.4,476.2 L358.9,476.2 L360.4,476.2 L361.9,476.2 L363.4,476.2 L364.9,476.2 L366.4,476.2 L367.9,476.2 L369.4,476.2 L370.9,476.2 L372.4,476.2 L373.9,476.3 L375.4,476.3 L376.9,476.4 L378.4,476.5 L379.8,476.6 L381.3,476.9 L382.8,477.3 L384.2,477.7 L385.7,478.1 L387.1,478.6 L388.5,479.1 L389.9,479.7 L391.3,480.2 L392.6,480.9 L394.0,481.5 L395.3,482.1 L396.7,482.8 L398.0,483.5 L399.4,484.2 L400.7,484.9 L402.0,485.6 L403.3,486.3 L404.6,487.1 L405.9,487.8 L407.2,488.6 L408.5,489.3 L409.8,490.1 L411.1,490.9 L412.4,491.7 L413.6,492.5 L414.9,493.3 L416.2,494.0 L417.4,494.9 L418.7,495.7 L420.0,496.5 L421.2,497.3 L422.5,498.1 L423.7,498.9 L425.0,499.8 L426.2,500.6 L427.5,501.5 L428.7,502.3 L429.9,503.1 L431.2,504.0 L432.4,504.8 L433.6,505.7 L434.9,506.6 L436.1,507.4 L437.3,508.3 L438.6,509.1 L439.8,510.0 L441.0,510.8 L442.3,511.7 L443.5,512.5 L444.7,513.4 L446.0,514.3 L447.2,515.1 L448.4,516.0 L449.7,516.8 L450.9,517.7 L452.1,518.5 L453.4,519.4 L454.6,520.2 L455.8,521.1 L457.1,521.9 L458.3,522.8 L459.5,523.6 L460.8,524.5 L462.0,525.3 L463.2,526.2 L464.5,527.0 L465.7,527.9 L466.9,528.7 L468.2,529.6 L469.4,530.5 L470.6,531.3 L471.9,532.2 L473.1,533.0 L474.4,533.8 L475.6,534.7 L476.9,535.5 L478.1,536.3 L479.4,537.2 L480.6,538.0 L481.9,538.8 L483.1,539.6 L484.4,540.5 L485.6,541.3 L486.8,542.2 L488.0,543.1 L489.2,544.0 L490.4,544.9 L491.6,545.8 L492.8,546.7 L494.0,547.6 L495.2,548.5 L496.4,549.4 L497.6,550.3 L498.8,551.2 L500.0,552.1 L501.2,553.1 L502.4,554.0 L503.6,554.9 L504.8,555.8 L506.0,556.7 L507.2,557.6 L508.4,558.5 L509.6,559.4 L510.8,560.3 L512.0,561.2 L513.2,562.0 L514.4,562.9 L515.6,563.8 L516.8,564.7 L518.0,565.6 L519.2,566.5 L520.4,567.4 L521.7,568.2 L522.9,569.1 L524.1,570.0 L525.3,570.9 L526.5,571.8 L527.7,572.6 L529.0,573.5 L530.2,574.4 L531.4,575.3 L532.6,576.1 L533.8,577.0 L535.0,577.9 L536.3,578.8 L537.5,579.6 L538.7,580.5 L539.9,581.4 L541.2,582.2 L542.4,583.1 L543.6,584.0 L544.8,584.8 L546.0,585.7 L547.3,586.6 L548.5,587.4 L549.7,588.3 L551.0,589.2 L552.2,590.0 L553.4,590.9 L554.6,591.7 L555.9,592.6 L557.1,593.5 L558.3,594.3 L559.6,595.1 L560.8,596.0 L562.1,596.8 L563.3,597.7 L564.6,598.5 L565.8,599.3 L567.1,600.1 L568.3,600.9 L569.6,601.8 L570.9,602.6 L572.1,603.4 L573.4,604.2 L574.7,605.0 L575.9,605.7 L577.2,606.5 L578.5,607.3 L579.8,608.1 L581.1,608.9 L582.3,609.7 L583.6,610.5 L584.9,611.3 L586.1,612.1 L587.4,612.9 L588.7,613.6 L590.0,614.4 L591.3,615.2 L592.6,615.9 L593.9,616.7 L595.2,617.4 L596.5,618.2 L597.8,618.8 L599.2,619.5 L600.5,620.2 L601.9,620.8 L603.2,621.5 L604.6,622.1 L606.0,622.6 L607.4,623.1 L608.8,623.6 L610.3,624.0 L611.7,624.5 L613.2,624.9 L614.6,625.2 L616.1,625.5 L617.6,625.8 L619.1,626.0 L620.5,626.2 L622.0,626.3 L623.5,626.4 L625.0,626.5 L626.5,626.5 L628.0,626.5 L629.5,626.5 L631.0,626.5 L632.5,626.5 L634.1,626.5 L635.6,626.5 L637.1,626.5 L638.6,626.5 L640.1,626.5 L641.6,626.5 L643.1,626.5 L644.5,626.5 L646.1,626.2 L646.9,626.6 L647.5,627.9 L647.9,629.8 L648.3,631.5 L648.6,632.9 L648.9,634.4 L649.1,635.9 L649.3,637.4 L649.5,638.9 L649.7,640.4 L649.9,641.9 L650.0,643.3 L650.2,644.8 L650.3,646.3 L650.5,647.8 L650.6,649.3 L650.7,650.8 L650.8,652.3 L650.9,653.8 L651.0,655.3 L651.1,656.8 L651.2,658.0" fill="none" stroke="#000" stroke-width="3.9" stroke-linejoin="round"/>
<path d="M99.3,270 V599.6" stroke="#000" stroke-width="3.8" fill="none"/>
<path d="M301.9,328 V596" stroke="#000" stroke-width="3.6" fill="none"/>
<path d="M652.85,352 V658.2" stroke="#000" stroke-width="3.7" fill="none"/>
<path d="M368.3,124 V200" stroke="#000" stroke-width="3.6" fill="none"/>
<path d="M359,137 L368.3,122.5 L377.6,137 M359,187 L368.3,201.5 L377.6,187" stroke="#000" stroke-width="3.6" fill="none" stroke-linecap="round" stroke-linejoin="miter"/>
<path d="M872.2,83 V711" stroke="#000" stroke-width="3.7" fill="none"/>
<path d="M840.6,146.2 H872.2" stroke="#000" stroke-width="3.7" fill="none"/>
<path d="M840.6,271.7 H872.2" stroke="#000" stroke-width="3.7" fill="none"/>
<path d="M840.6,523.4 H872.2" stroke="#000" stroke-width="3.7" fill="none"/>
<path d="M840.6,648.7 H872.2" stroke="#000" stroke-width="3.7" fill="none"/>
<path d="M101.5,711.2 H650" stroke="#000" stroke-width="3.5" fill="none"/>
<path d="M117.3,702.7 L101.6,711.2 L117.3,719.7 M634.2,702.7 L650.1,711.2 L634.2,719.7" stroke="#000" stroke-width="3.5" fill="none" stroke-linecap="round" stroke-linejoin="miter"/>
<path d="M306.2,413.0 L305.6,396.0 L321.4,402.4" fill="none" stroke="#FF0000" stroke-width="5.4" stroke-linecap="round" stroke-linejoin="miter" stroke-miterlimit="10"/>
<path d="M197.9,569 L197.9,266.0" fill="none" stroke="#FF0000" stroke-width="4.9" stroke-linecap="butt" stroke-linejoin="round"/>
<path d="M188.3,280.7 L197.9,266.0 L207.5,280.7" fill="none" stroke="#FF0000" stroke-width="5.4" stroke-linecap="round" stroke-linejoin="miter" stroke-miterlimit="10"/>
<path d="M498.95,568.5 L498.9,267.2" fill="none" stroke="#FF0000" stroke-width="4.9" stroke-linecap="butt" stroke-linejoin="round"/>
<path d="M489.4,281.9 L498.9,267.2 L508.5,281.9" fill="none" stroke="#FF0000" stroke-width="5.4" stroke-linecap="round" stroke-linejoin="miter" stroke-miterlimit="10"/>
<path d="M210.5,256.5 L254.2,307.5" fill="none" stroke="#FF0000" stroke-width="5.6" stroke-linecap="butt" stroke-linejoin="round"/>
<path d="M252.0,291.0 L254.2,307.5 L238.2,302.8" fill="none" stroke="#FF0000" stroke-width="5.6" stroke-linecap="round" stroke-linejoin="miter" stroke-miterlimit="10"/>
<path d="M512.5,255.3 L514.1,256.5 L515.6,257.8 L517.2,259.0 L518.8,260.3 L520.3,261.5 L521.9,262.7 L523.5,264.0 L525.1,265.2 L526.7,266.4 L528.3,267.6 L529.8,268.8 L531.4,270.0 L533.0,271.3 L534.6,272.5 L536.2,273.7 L537.8,274.9 L539.4,276.1 L541.0,277.3 L542.6,278.5 L544.2,279.7 L545.8,281.0 L547.4,282.1 L549.0,283.3 L550.6,284.5 L552.2,285.7 L553.9,286.8 L555.5,288.0 L557.2,289.1 L558.8,290.2 L560.5,291.3 L562.2,292.4 L563.9,293.4 L565.6,294.5 L567.3,295.6 L569.0,296.6 L570.7,297.6 L572.4,298.7 L574.2,299.7 L575.9,300.7 L577.6,301.6 L579.4,302.6 L581.2,303.6 L582.9,304.5 L584.7,305.4 L586.5,306.3 L588.3,307.2 L590.1,308.1 L591.9,309.0 L593.7,309.9 L595.5,310.8 L597.3,311.7 L599.1,312.5 L601.0,313.3 L602.8,314.1 L604.7,314.9 L606.5,315.6 L608.4,316.2 L610.3,316.8 L612.2,317.3 L614.1,317.8 L616.1,318.2 L618.0,318.6 L620.0,319.0 L622.0,319.3 L623.8,319.6" fill="none" stroke="#FF0000" stroke-width="5.6" stroke-linecap="butt" stroke-linejoin="round"/>
<path d="M611.9,307.9 L623.8,319.6 L608.2,325.7" fill="none" stroke="#FF0000" stroke-width="5.6" stroke-linecap="round" stroke-linejoin="miter" stroke-miterlimit="10"/>
<path d="M187.0,564.0 L187.0,562.0 L187.0,560.0 L187.0,558.0 L187.0,556.0 L187.0,554.0 L187.0,552.0 L187.0,550.0 L187.0,548.0 L187.0,546.0 L187.0,544.0 L187.0,542.0 L187.0,540.0 L187.0,538.0 L187.0,536.0 L187.0,534.0 L187.0,532.0 L187.0,530.0 L187.0,528.0 L187.0,526.0 L187.0,524.0 L187.0,522.0 L187.0,520.0 L187.0,518.0 L187.0,516.0 L187.0,514.0 L186.9,512.0 L186.9,510.0 L186.9,508.0 L186.9,506.0 L186.9,504.0 L186.8,502.0 L186.8,500.0 L186.8,498.0 L186.8,496.0 L186.7,494.0 L186.7,492.0 L186.7,490.0 L186.6,488.0 L186.6,486.0 L186.5,484.0 L186.4,482.0 L186.1,480.0 L185.9,478.0 L185.5,476.0 L185.2,474.0 L184.7,472.1 L184.3,470.2 L183.7,468.3 L182.8,466.5 L181.9,464.7 L180.8,462.9 L179.7,461.2 L178.6,459.6 L177.5,457.9 L176.4,456.3 L175.2,454.7 L173.9,453.1 L172.6,451.5 L171.2,450.0 L169.8,448.5 L168.4,447.0 L166.9,445.7 L165.5,444.4 L164.0,443.2 L162.4,442.0 L160.9,440.9 L159.3,439.8 L157.7,438.7 L156.0,437.6 L154.3,436.5 L152.6,435.5 L150.8,434.6 L149.0,433.6 L147.2,432.7 L145.3,431.9 L143.4,431.1 L141.5,430.3 L139.6,429.6 L137.6,428.9 L137.3,428.8" fill="none" stroke="#FF0000" stroke-width="5.4" stroke-linecap="butt" stroke-linejoin="round"/>
<path d="M144.6,443.6 L137.3,428.8 L153.7,428.2" fill="none" stroke="#FF0000" stroke-width="5.4" stroke-linecap="round" stroke-linejoin="miter" stroke-miterlimit="10"/>
<path d="M489.0,560.0 L489.0,558.0 L489.0,556.0 L488.9,554.0 L488.9,552.0 L488.9,550.0 L488.9,548.0 L488.8,546.0 L488.8,544.0 L488.8,542.0 L488.7,540.0 L488.7,538.0 L488.6,536.0 L488.6,534.0 L488.5,532.0 L488.5,530.0 L488.4,528.0 L488.4,526.0 L488.3,524.0 L488.2,522.0 L488.2,520.0 L488.1,518.0 L488.0,516.0 L487.9,514.0 L487.8,512.0 L487.7,510.0 L487.6,508.0 L487.5,506.0 L487.4,504.0 L487.2,502.0 L487.0,500.0 L486.8,498.0 L486.5,496.1 L486.3,494.1 L486.0,492.1 L485.6,490.1 L485.3,488.1 L484.9,486.2 L484.5,484.2 L484.1,482.3 L483.7,480.3 L483.1,478.4 L482.5,476.4 L481.9,474.5 L481.2,472.6 L480.5,470.8 L479.7,469.0 L478.8,467.2 L477.9,465.5 L476.9,463.7 L475.8,461.9 L474.6,460.2 L473.4,458.6 L472.1,457.0 L470.8,455.4 L469.4,454.0 L468.0,452.6 L466.6,451.4 L465.1,450.2 L463.5,449.0 L461.9,447.9 L460.1,446.9 L458.4,445.9 L456.5,444.9 L454.7,444.0 L452.8,443.1 L451.0,442.3 L449.1,441.5 L447.3,440.8 L445.5,440.1 L443.6,439.4 L441.7,438.7 L439.8,438.1 L437.9,437.5 L436.0,436.9 L434.0,436.3 L432.1,435.8 L430.1,435.3 L428.2,434.8 L426.2,434.3 L424.3,433.8 L422.4,433.3 L420.4,432.9 L418.5,432.4 L416.5,432.0 L414.6,431.5 L412.6,431.1 L410.7,430.7 L408.7,430.2 L406.7,429.8 L404.8,429.5 L402.8,429.1 L400.8,428.8 L398.8,428.5 L396.9,428.2 L394.9,427.9 L392.9,427.7 L390.9,427.5 L388.9,427.3 L386.9,427.1 L385.0,426.9 L383.0,426.7 L381.0,426.5 L379.0,426.4 L377.0,426.3 L375.0,426.1 L373.0,426.1 L371.0,426.0 L370.6,426.0" fill="none" stroke="#FF0000" stroke-width="5.6" stroke-linecap="butt" stroke-linejoin="round"/>
<path d="M382.2,438.0 L370.6,426.0 L386.3,420.3" fill="none" stroke="#FF0000" stroke-width="5.6" stroke-linecap="round" stroke-linejoin="miter" stroke-miterlimit="10"/>
<text transform="translate(77.30,49.6) scale(1,1.06)" font-family="&quot;Liberation Sans&quot;, sans-serif" font-size="54" font-weight="bold" fill="#000" font-style="italic">p</text>
<text x="110.40" y="31.28" font-family="&quot;Liberation Sans&quot;, sans-serif" font-size="34" font-weight="bold" fill="#000">+</text>
<text x="185.40" y="49.4" font-family="&quot;Liberation Sans&quot;, sans-serif" font-size="54" font-weight="bold" fill="#000" font-style="italic">i</text>
<text transform="translate(254.30,49.5) scale(1,1.06)" font-family="&quot;Liberation Sans&quot;, sans-serif" font-size="54" font-weight="bold" fill="#000" font-style="italic">n</text>
<text x="286.70" y="31.28" font-family="&quot;Liberation Sans&quot;, sans-serif" font-size="34" font-weight="bold" fill="#000">+</text>
<text transform="translate(308.20,49.6) scale(1,1.06)" font-family="&quot;Liberation Sans&quot;, sans-serif" font-size="54" font-weight="bold" fill="#000" font-style="italic">p</text>
<text x="339.70" y="31.28" font-family="&quot;Liberation Sans&quot;, sans-serif" font-size="34" font-weight="bold" fill="#000">+</text>
<text x="474.00" y="49.4" font-family="&quot;Liberation Sans&quot;, sans-serif" font-size="54" font-weight="bold" fill="#000" font-style="italic">i</text>
<text transform="translate(625.90,49.5) scale(1,1.06)" font-family="&quot;Liberation Sans&quot;, sans-serif" font-size="54" font-weight="bold" fill="#000" font-style="italic">n</text>
<text x="658.40" y="31.28" font-family="&quot;Liberation Sans&quot;, sans-serif" font-size="34" font-weight="bold" fill="#000">+</text>
<text transform="translate(14.60,443.9) scale(1,1.045)" font-family="&quot;Liberation Sans&quot;, sans-serif" font-size="44" font-weight="bold" fill="#000" letter-spacing="2.17">ITO</text>
<text x="674.35" y="443.5" font-family="&quot;Liberation Sans&quot;, sans-serif" font-size="45.5" font-weight="bold" fill="#000" letter-spacing="-0.35">Ag</text>
<text transform="translate(662.85,292.3) scale(1,1.04)" font-family="&quot;Liberation Sans&quot;, sans-serif" font-size="44" font-weight="bold" fill="#E36C0A" letter-spacing="0.32">CB (6T)</text>
<text transform="translate(662.85,367.0) scale(1,1.04)" font-family="&quot;Liberation Sans&quot;, sans-serif" font-size="44" font-weight="bold" fill="#000">CB (C</text>
<text x="786.70" y="376.7" font-family="&quot;Liberation Sans&quot;, sans-serif" font-size="29" font-weight="bold" fill="#000" letter-spacing="0.70">60</text>
<text transform="translate(822.05,367.0) scale(1,1.04)" font-family="&quot;Liberation Sans&quot;, sans-serif" font-size="44" font-weight="bold" fill="#000">)</text>
<text transform="translate(663.35,556.3) scale(1,1.04)" font-family="&quot;Liberation Sans&quot;, sans-serif" font-size="44" font-weight="bold" fill="#E36C0A" letter-spacing="0.20">VB (6T)</text>
<text transform="translate(663.35,644.1) scale(1,1.04)" font-family="&quot;Liberation Sans&quot;, sans-serif" font-size="44" font-weight="bold" fill="#000">VB (C</text>
<text x="783.10" y="653.9" font-family="&quot;Liberation Sans&quot;, sans-serif" font-size="29" font-weight="bold" fill="#000" letter-spacing="1.20">60</text>
<text transform="translate(818.35,644.1) scale(1,1.04)" font-family="&quot;Liberation Sans&quot;, sans-serif" font-size="44" font-weight="bold" fill="#000">)</text>
<text transform="translate(883.55,160.2) scale(1,1.04)" font-family="&quot;Liberation Sans&quot;, sans-serif" font-size="44" font-weight="bold" fill="#000" letter-spacing="0.07">-2 (eV)</text>
<text x="883.35" y="286.1" font-family="&quot;Liberation Sans&quot;, sans-serif" font-size="44" font-weight="bold" fill="#000">-</text>
<text transform="translate(896.10,663.4) scale(1,1.04)" font-family="&quot;Liberation Sans&quot;, sans-serif" font-size="44" font-weight="bold" fill="#000">2</text>
<text transform="translate(883.30,413.8) scale(1,1.04)" font-family="&quot;Liberation Sans&quot;, sans-serif" font-size="44" font-weight="bold" fill="#000">E</text>
<text x="911.70" y="424.8" font-family="&quot;Liberation Sans&quot;, sans-serif" font-size="29" font-weight="bold" fill="#000">F</text>
<text transform="translate(89.30,682.4) scale(1,1.04)" font-family="&quot;Liberation Sans&quot;, sans-serif" font-size="44" font-weight="bold" fill="#000">F</text>
<text x="119.20" y="682.4" font-family="&quot;Liberation Sans&quot;, sans-serif" font-size="44" font-weight="bold" fill="#000">ront</text>
<text transform="translate(217.45,682.4) scale(1,1.03)" font-family="&quot;Liberation Sans&quot;, sans-serif" font-size="44" font-weight="bold" fill="#000" letter-spacing="0.40">cell</text>
<text transform="translate(393.00,682.8) scale(1,1.03)" font-family="&quot;Liberation Sans&quot;, sans-serif" font-size="44" font-weight="bold" fill="#000" letter-spacing="0.09">Back cell</text>
<text transform="translate(305.20,764.8) scale(1,1.04)" font-family="&quot;Liberation Sans&quot;, sans-serif" font-size="44" font-weight="bold" fill="#000" letter-spacing="0.02">220 nm</text>
<path d="M806,0 L525,0 L525,1059 Q371,915 162,846 L162,1101 Q272,1137 401,1237.5 Q530,1338 578,1472 L806,1472 Z" transform="translate(897.54,286.1) scale(0.02290,-0.02160)" fill="#000"/>
<path d="M806,0 L525,0 L525,1059 Q371,915 162,846 L162,1101 Q272,1137 401,1237.5 Q530,1338 578,1472 L806,1472 Z" transform="translate(895.14,537.2) scale(0.02290,-0.02160)" fill="#000"/>
</svg>
</body></html>
